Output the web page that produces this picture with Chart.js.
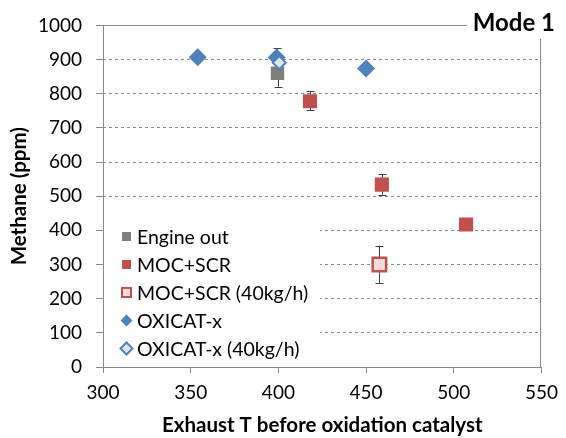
<!DOCTYPE html>
<html>
<head>
<meta charset="utf-8">
<script src="https://cdn.jsdelivr.net/npm/chart.js@4/dist/chart.umd.min.js"></script>
<style>
  html, body { margin: 0; padding: 0; background: #fff; }
  #wrap { width: 566px; height: 438px; }
</style>
</head>
<body>
<div id="wrap"><canvas id="ch4Chart"></canvas></div>
<script>
  // Methane after each catalyst vs. exhaust temperature, mode 1
  const engineT = [399.5];
  const engineCH4 = [860];
  const engineLo = [820];
  const engineHi = [898];

  const mocT = [418, 459, 507];
  const mocCH4 = [778, 534, 417];
  const mocLo = [751, 504, null];
  const mocHi = [808, 564, null];

  const moc40T = [457.6];
  const moc40CH4 = [300];
  const moc40Lo = [246];
  const moc40Hi = [355];

  const oxiT = [354, 399, 450];
  const oxiCH4 = [907, 906, 874];
  const oxiLo = [null, 879, null];
  const oxiHi = [null, 933, null];

  const oxi40T = [400.5];
  const oxi40CH4 = [891];

  const xTicks = [300, 350, 400, 450, 500, 550];
  const yTicks = [0, 100, 200, 300, 400, 500, 600, 700, 800, 900, 1000];

  const FONT = 'Lato, "Open Sans", sans-serif';

  function pts(xs, ys) {
    return xs.map((x, i) => ({ x: x, y: ys[i] }));
  }

  const legendItems = [
    { text: 'Engine out', style: 'rect', fill: '#7F7F7F', stroke: '#7F7F7F', lw: 0 },
    { text: 'MOC+SCR', style: 'rect', fill: '#C0504D', stroke: '#C0504D', lw: 0 },
    { text: 'MOC+SCR (40kg/h)', style: 'rect', fill: '#F2DCDB', stroke: '#C0504D', lw: 2 },
    { text: 'OXICAT-x', style: 'diamond', fill: '#4F81BD', stroke: '#4F81BD', lw: 0 },
    { text: 'OXICAT-x (40kg/h)', style: 'diamond', fill: '#DCE6F2', stroke: '#4F81BD', lw: 2 }
  ];

  // frame, error bars, legend box and the mode label
  const decorations = {
    id: 'decorations',
    beforeDatasetsDraw(chart) {
      const { ctx, chartArea: a, scales: { x, y } } = chart;
      ctx.save();
      // plot frame
      ctx.strokeStyle = '#888';
      ctx.lineWidth = 1;
      ctx.strokeRect(Math.round(a.left) + 0.5, Math.round(a.top) + 0.5,
        Math.round(a.right - a.left) - 1, Math.round(a.bottom - a.top));

      // legend background hides the grid behind it
      ctx.fillStyle = '#fff';
      ctx.fillRect(a.left + 1, 221, 216, 145);

      // error bars
      ctx.strokeStyle = '#404040';
      chart.data.datasets.forEach(ds => {
        if (!ds.lo) return;
        ds.data.forEach((p, i) => {
          if (ds.lo[i] == null) return;
          const px = Math.round(x.getPixelForValue(p.x)) + 0.5;
          const y1 = y.getPixelForValue(ds.lo[i]);
          const y2 = y.getPixelForValue(ds.hi[i]);
          ctx.beginPath();
          ctx.moveTo(px, y1); ctx.lineTo(px, y2);
          ctx.moveTo(px - 4, Math.round(y1) + 0.5); ctx.lineTo(px + 4, Math.round(y1) + 0.5);
          ctx.moveTo(px - 4, Math.round(y2) + 0.5); ctx.lineTo(px + 4, Math.round(y2) + 0.5);
          ctx.stroke();
        });
      });
      ctx.restore();
    },
    afterDatasetsDraw(chart) {
      const { ctx } = chart;
      ctx.save();
      // legend entries
      ctx.font = '19.5px ' + FONT;
      ctx.textBaseline = 'middle';
      ctx.textAlign = 'left';
      legendItems.forEach((it, i) => {
        const cy = 236.5 + i * 28;
        const cx = 126.5;
        ctx.beginPath();
        if (it.style === 'rect') {
          ctx.rect(cx - 4.5, cy - 4.5, 9, 9);
        } else {
          ctx.moveTo(cx - 6, cy); ctx.lineTo(cx, cy - 6);
          ctx.lineTo(cx + 6, cy); ctx.lineTo(cx, cy + 6); ctx.closePath();
        }
        ctx.fillStyle = it.fill;
        ctx.fill();
        if (it.lw) {
          ctx.lineWidth = it.lw;
          ctx.strokeStyle = it.stroke;
          ctx.stroke();
        }
        ctx.fillStyle = '#000';
        ctx.fillText(it.text, 137, cy + 1);
      });

      // mode label sits over the top-right corner of the frame
      ctx.fillStyle = '#fff';
      ctx.fillRect(467, 0, 99, 39);
      ctx.fillStyle = '#000';
      ctx.font = 'bold 24px ' + FONT;
      ctx.textAlign = 'right';
      ctx.textBaseline = 'middle';
      ctx.fillText('Mode 1', 555, 23);
      ctx.restore();
    }
  };

  new Chart(document.getElementById('ch4Chart'), {
    type: 'scatter',
    data: {
      datasets: [
        {
          label: 'Engine out', data: pts(engineT, engineCH4), lo: engineLo, hi: engineHi,
          pointStyle: 'rect', pointRadius: 9.5, backgroundColor: '#7F7F7F', borderColor: '#7F7F7F',
          borderWidth: 0, order: 4
        },
        {
          label: 'MOC+SCR', data: pts(mocT, mocCH4), lo: mocLo, hi: mocHi,
          pointStyle: 'rect', pointRadius: 10, backgroundColor: '#C0504D', borderColor: '#C0504D',
          borderWidth: 0, order: 3
        },
        {
          label: 'MOC+SCR (40kg/h)', data: pts(moc40T, moc40CH4), lo: moc40Lo, hi: moc40Hi,
          pointStyle: 'rect', pointRadius: 9.5, backgroundColor: '#F2DCDB', borderColor: '#C0504D',
          borderWidth: 2.5, order: 2
        },
        {
          label: 'OXICAT-x', data: pts(oxiT, oxiCH4), lo: oxiLo, hi: oxiHi,
          pointStyle: 'rectRot', pointRadius: 9, backgroundColor: '#4F81BD', borderColor: '#4F81BD',
          borderWidth: 0, order: 1
        },
        {
          label: 'OXICAT-x (40kg/h)', data: pts(oxi40T, oxi40CH4),
          pointStyle: 'rectRot', pointRadius: 6.5, backgroundColor: '#DCE6F2', borderColor: '#4F81BD',
          borderWidth: 2, order: 0
        }
      ]
    },
    options: {
      responsive: true,
      maintainAspectRatio: false,
      animation: false,
      layout: { padding: { top: 15, right: 20, left: 0, bottom: 0 }, autoPadding: false },
      plugins: {
        legend: { display: false },
        tooltip: { enabled: false }
      },
      scales: {
        x: {
          type: 'linear',
          min: 300,
          max: 550,
          afterFit: s => { s.height = 71; },
          afterBuildTicks: s => { s.ticks = xTicks.map(v => ({ value: v })); },
          grid: { drawOnChartArea: false, drawTicks: true, tickLength: 6, tickColor: '#888', color: '#888' },
          border: { display: false },
          ticks: { color: '#000', padding: 8, font: { family: FONT, size: 19 }, maxRotation: 0, callback: v => String(v) },
          title: {
            display: true, text: 'Exhaust T before oxidation catalyst', color: '#000',
            font: { family: FONT, size: 20.5, weight: 'bold' }, padding: { top: 0, bottom: 0 }
          }
        },
        y: {
          type: 'linear',
          min: 0,
          max: 1000,
          afterFit: s => { s.width = 103; },
          afterBuildTicks: s => { s.ticks = yTicks.map(v => ({ value: v })); },
          grid: {
            color: c => (c.tick && (c.tick.value === 0 || c.tick.value === 1000)) ? 'rgba(0,0,0,0)' : '#888',
            tickColor: '#888',
            tickLength: 7,
            tickBorderDash: [100, 0],
            lineWidth: 1
          },
          border: { display: false, dash: [3, 3] },
          ticks: { color: '#000', padding: 14, font: { family: FONT, size: 19 }, callback: v => String(v) },
          title: {
            display: true, text: 'Methane (ppm)', color: '#000',
            font: { family: FONT, size: 20.5, weight: 'bold' }, padding: { top: 7, bottom: 0 }
          }
        }
      }
    },
    plugins: [decorations]
  });
</script>
</body>
</html>
